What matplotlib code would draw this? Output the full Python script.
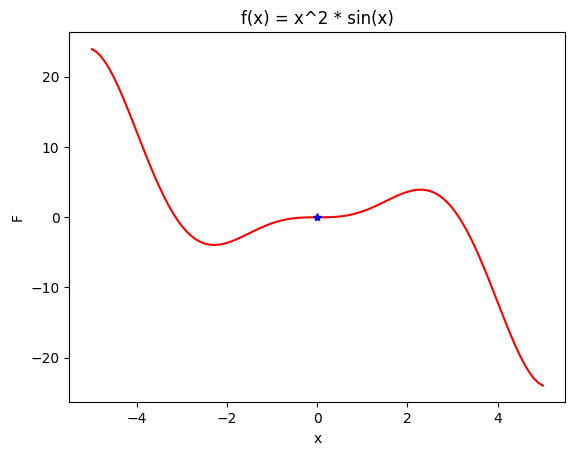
import matplotlib
matplotlib.use("Agg")
import matplotlib.pyplot as plt

# values, x from 0 to 5 in steps of 0.1 (curve is odd, left half mirrored)
x_pos = [round(0.1 * i, 1) for i in range(51)]
f_pos = [0.0, 0.001, 0.008, 0.027, 0.062, 0.120, 0.203, 0.316, 0.459, 0.635,
         0.841, 1.078, 1.342, 1.628, 1.932, 2.244, 2.559, 2.866, 3.155, 3.416,
         3.637, 3.807, 3.913, 3.945, 3.891, 3.740, 3.485, 3.116, 2.626, 2.012,
         1.270, 0.400, -0.598, -1.718, -2.954, -4.297, -5.735, -7.254, -8.835, -10.461,
         -12.109, -13.755, -15.375, -16.940, -18.423, -19.795, -21.027, -22.088, -22.952, -23.589,
         -23.973]

x_vals = [-v for v in x_pos[:0:-1]] + x_pos
f_vals = [-v for v in f_pos[:0:-1]] + f_pos

star_x = [0.0]
star_y = [0.0]

fig = plt.figure(figsize=(5.74, 4.55), dpi=100)
fig.subplots_adjust(left=0.1207, right=0.9849, top=0.929, bottom=0.1158)
ax = fig.add_subplot(111)

ax.plot(x_vals, f_vals, "r")
ax.plot(star_x, star_y, "b*")
ax.set_title("f(x) = x^2 * sin(x)")
ax.set_xlabel("x")
ax.set_ylabel("F")

fig.savefig("out.png")
